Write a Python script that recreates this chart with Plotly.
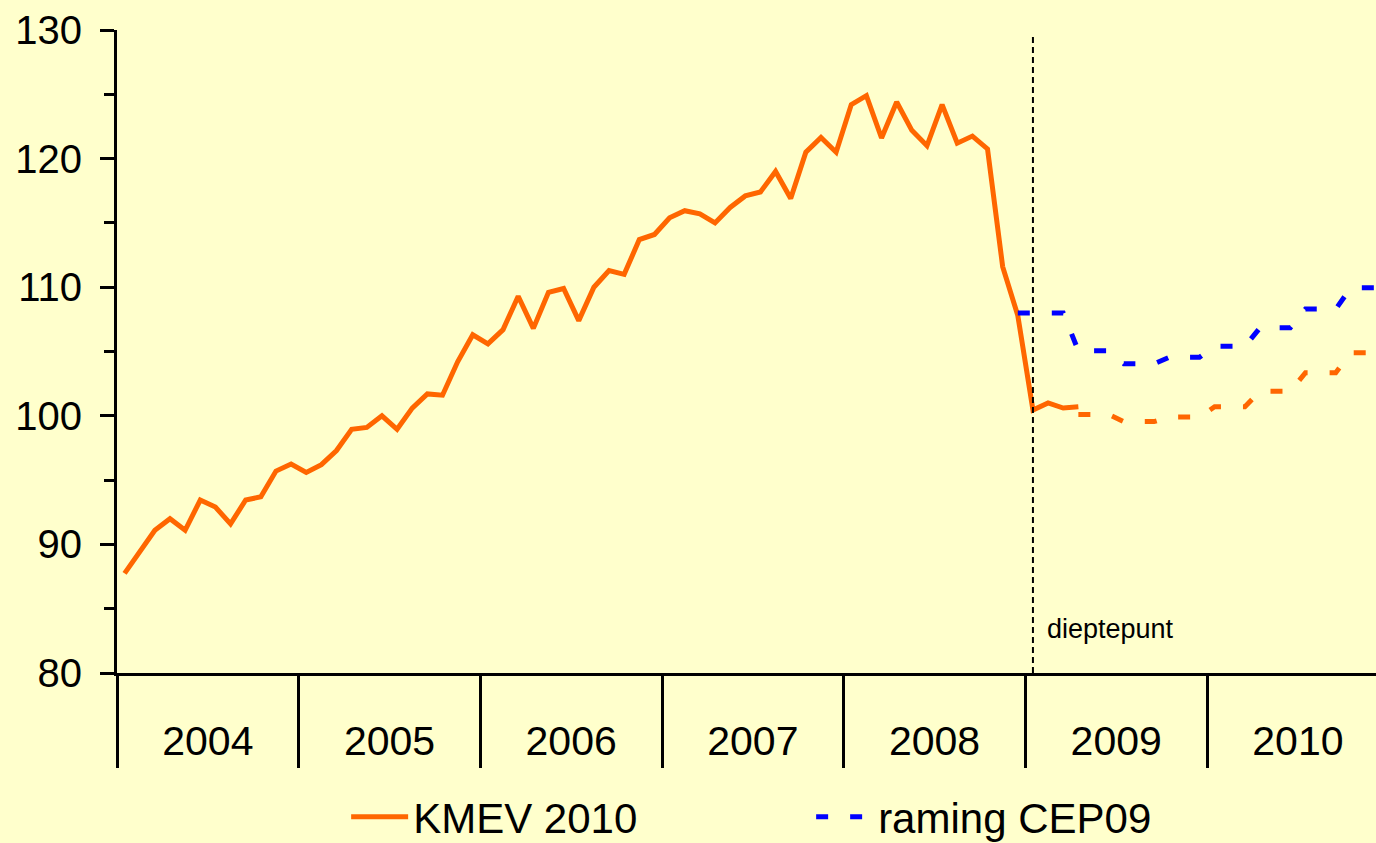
import plotly.graph_objects as go

# ---------------- data ----------------
years = [2004, 2005, 2006, 2007, 2008, 2009, 2010]

# KMEV 2010 (realisation), monthly, Jan 2004 .. Apr 2009
kmev_start = (2004, 1)
kmev_values = [
    87.75, 89.4, 91.1, 92.0, 91.1, 93.45, 92.9, 91.6, 93.45, 93.7, 95.7, 96.25,
    95.6, 96.2, 97.3, 98.95, 99.1, 100.0, 98.95, 100.6, 101.7, 101.6, 104.2, 106.3,
    105.6, 106.7, 109.3, 106.8, 109.6, 109.9, 107.4, 110.0, 111.3, 111.0, 113.7, 114.1,
    115.4, 115.95, 115.7, 115.0, 116.2, 117.1, 117.4, 119.0, 116.9, 120.5, 121.65, 120.5,
    124.2, 124.9, 121.6, 124.4, 122.2, 121.0, 124.2, 121.2, 121.75, 120.75, 111.6, 107.8,
    100.45, 101.0, 100.6, 100.7,
]

# KMEV 2010 forecast, monthly, Apr 2009 .. Dec 2010
kmev_fc_start = (2009, 4)
kmev_fc_values = [
    100.1, 100.1, 100.1, 99.55, 99.55, 99.55, 99.9, 99.9, 99.9,
    100.7, 100.7, 100.7, 101.9, 101.9, 101.9, 103.35, 103.35, 103.35, 104.9, 104.9, 104.9,
]

# raming CEP09, monthly, Dec 2008 .. Dec 2010
cep_start = (2008, 12)
cep_values = [
    108.0,
    108.0, 108.0, 108.0, 105.05, 105.05, 105.05, 104.05, 104.05, 104.05, 104.55, 104.55, 104.55,
    105.4, 105.4, 105.4, 106.85, 106.85, 106.85, 108.3, 108.3, 108.3, 109.95, 109.95, 109.95,
]

trough_month = (2009, 1)
trough_label = "dieptepunt"

y_ticks = [80, 90, 100, 110, 120, 130]

# ---------------- helpers ----------------
BASE_YEAR = years[0]


def month_pos(year, month):
    """Centre of a month slot on an evenly spaced (category-like) month axis."""
    return (year - BASE_YEAR) * 12 + (month - 1) + 0.5


def positions(start, n):
    y0, m0 = start
    return [month_pos(y0 + (m0 - 1 + k) // 12, (m0 - 1 + k) % 12 + 1) for k in range(n)]


ORANGE = "#FF6600"
BLUE = "#0000FF"
BG = "#FFFFCC"
FONT = "Arial, Liberation Sans, sans-serif"

fig = go.Figure()

fig.add_trace(go.Scatter(
    x=positions(kmev_start, len(kmev_values)), y=kmev_values,
    mode="lines", name="KMEV 2010",
    line=dict(color=ORANGE, width=5),
))
fig.add_trace(go.Scatter(
    x=positions(kmev_fc_start, len(kmev_fc_values)), y=kmev_fc_values,
    mode="lines", name="KMEV 2010 raming", showlegend=False,
    line=dict(color=ORANGE, width=5, dash="12px,22px"),
))
fig.add_trace(go.Scatter(
    x=positions(cep_start, len(cep_values)), y=cep_values,
    mode="lines", name="raming CEP09",
    line=dict(color=BLUE, width=5, dash="12px,22px"),
))

# vertical dashed line at the trough
tx = month_pos(*trough_month)
fig.add_shape(type="line", xref="x", yref="paper", x0=tx, x1=tx, y0=0, y1=0.99,
              line=dict(color="black", width=2, dash="6px,4px"))
fig.add_annotation(x=tx, y=83.4, xref="x", yref="y", text=trough_label,
                   showarrow=False, xanchor="left", yanchor="middle", xshift=12,
                   font=dict(family=FONT, size=27, color="black"))

n_months = len(years) * 12
year_centres = [(y - BASE_YEAR) * 12 + 6 for y in years]
year_edges = [(y - BASE_YEAR) * 12 for y in years] + [n_months]

fig.update_layout(
    width=1376, height=870,
    paper_bgcolor=BG, plot_bgcolor=BG,
    margin=dict(l=117, r=0, t=30, b=197),
    font=dict(family=FONT, color="black"),
    showlegend=True,
    legend=dict(orientation="h", x=0.182, xanchor="left", y=-0.224, yanchor="middle",
                font=dict(family=FONT, size=42), bgcolor="rgba(0,0,0,0)",
                entrywidth=393, entrywidthmode="pixels", itemwidth=57),
    xaxis=dict(
        range=[0, 83.16], showgrid=False, zeroline=False,
        showline=True, linecolor="black", linewidth=3,
        tickmode="array", tickvals=year_centres, ticktext=[str(y) for y in years],
        ticks="outside", ticklen=30, tickcolor="rgba(0,0,0,0)",
        tickfont=dict(family=FONT, size=41),
        minor=dict(tickmode="array", tickvals=year_edges, ticks="outside",
                   ticklen=92, tickwidth=3, tickcolor="black", showgrid=False),
    ),
    yaxis=dict(
        range=[80, 130], showgrid=False, zeroline=False,
        showline=True, linecolor="black", linewidth=3,
        tickmode="array", tickvals=y_ticks,
        ticks="outside", ticklen=14, tickwidth=3, tickcolor="black",
        ticklabelstandoff=10,
        tickfont=dict(family=FONT, size=40),
        minor=dict(dtick=5, ticks="outside", ticklen=10, tickwidth=3,
                   tickcolor="black", showgrid=False),
    ),
)

fig.write_html(
    "out.html",
    config={"displayModeBar": False},
    post_script="document.body.style.margin='0';document.body.style.padding='0';"
                "document.body.style.overflow='hidden';"
                "document.documentElement.style.overflow='hidden';",
)
